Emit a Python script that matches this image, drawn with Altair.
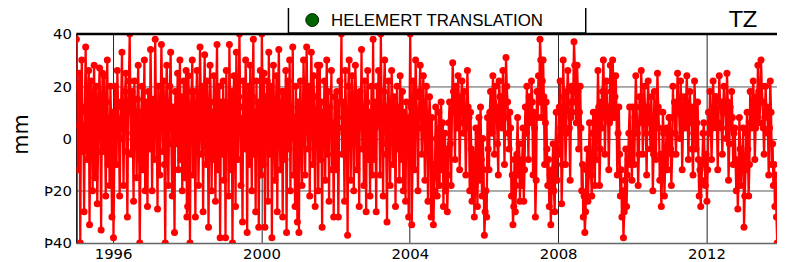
import altair as alt
import pandas as pd

# weekly-ish values (mm), one list per year (48 per year)
y1995 = [38, 20, -12, 5, 25, -40, 10, 30, -5, 5, -28, 12, 35, 0, -8, 18, 26, -33, 4, 22, 10, -20, 15, 28,
         -15, 8, 20, -25, -5, 15, 27, 6, -35, 12, 25, -5, 24, 2, -22, 14, 30, -10, 8, -18, 20, 6, -30, 10]
y1996 = [-38, -10, 20, 5, -10, 26, 12, 5, -22, 0, 14, 33, 8, -18, 8, 18, 25, -5, -30, 12, 22, 40, 10, -6,
         18, 2, -24, 22, 10, 3, -15, 15, 28, 6, -40, -8, 10, 20, -12, 5, 30, -20, 14, 0, -26, 18, 8, -4]
y1997 = [34, 10, -20, 15, 2, -8, 38, 12, 4, -27, 20, 6, -14, 10, 36, 15, -5, 22, -10, -40, 14, 28, 5, -18,
         6, 20, 33, -2, -22, 12, 0, -36, 18, 8, -2, 25, -12, 10, 30, -8, 16, -20, 4, 22, -15, 8, 26, -30]
y1998 = [-26, 24, 2, -40, 10, 18, 30, -14, 18, 2, -30, 12, 26, 8, -18, 4, 35, 15, -6, 20, -28, 12, 32, 5,
         -10, 22, 8, -34, 6, 28, 14, -20, 10, -8, 24, 0, -24, 16, 36, -12, 6, 20, -38, 8, 14, -6, 22, -16]
y1999 = [14, -38, 26, 4, 12, -22, 36, 10, -12, 18, -40, 6, 24, 10, -26, 33, 2, -8, 16, 40, 12, -18, 6, -32,
         22, 8, -4, 30, 14, -36, 12, 20, -10, 28, 4, -20, 16, 38, -6, 10, -28, 22, 0, 14, -34, 8, 26, -14]
y2000 = [40, 15, -10, 25, -34, 16, 2, 22, -24, 33, 8, -6, 20, -38, 12, 28, 4, -16, 8, 24, -28, 14, 34, 6,
         -12, 4, 18, -30, 18, 2, -8, 26, -36, 10, 22, -4, 30, -20, 12, 0, 35, -14, 8, -26, 20, 6, -32, 14]
y2001 = [-36, 10, 22, 0, -18, 5, 30, 12, -14, 14, 35, 8, -4, 20, -22, 12, 33, 16, -10, 24, 4, -26, 6, 16,
         28, -20, 10, 28, -8, 14, -34, 10, 2, 22, -16, 8, 30, -6, 18, -24, 12, 4, 26, -12, 6, -30, 16, -2]
y2002 = [-12, 18, 8, -30, 4, 22, 14, 40, -6, 14, 2, -24, 26, 10, 2, -37, 20, 30, 8, -16, 10, 24, 12, -20,
         6, 28, 16, -12, 16, 4, -26, 18, 4, 34, -4, 12, -18, 22, 6, -28, 14, 26, -8, 10, -22, 2, 20, -14]
y2003 = [38, -8, 14, 4, -28, 20, 6, 26, 10, -14, 40, 10, -2, -22, 18, 30, 12, -6, -32, 12, 22, 4, -18, 4,
         26, 14, -10, 16, 8, -26, 8, 20, -4, 12, -16, 24, 6, -8, 18, -20, 10, 2, -24, 14, -6, 8, -30, 4]
y2004 = [40, 12, -33, -10, 22, 8, -12, 30, 16, 8, -20, 4, 18, 28, 10, -6, 14, 24, 6, -16, 10, 20, 2, -24,
         2, 16, 8, -30, 8, -10, -33, -20, -14, 12, 0, -22, -6, 10, -18, 4, 14, -12, 6, -26, -8, 2, -20, -4]
y2005 = [-28, -14, 6, 14, -2, -18, 10, 29, 18, 10, -8, 20, 12, 4, 24, 14, -12, 6, 16, 22, 10, 2, 18, 6,
         -14, 4, 26, 12, 8, -20, 10, -4, -24, -12, -6, -30, -18, 4, -10, -26, 2, 8, -16, 12, -8, -22, 0, -12]
y2006 = [-37, -28, -20, -30, 8, -4, -12, 10, 18, 6, 2, 24, 14, -6, 20, 8, 12, -2, -14, 22, 16, 6, 16, 4,
         26, 12, -10, 8, 31, 20, 14, 2, -4, 10, 4, -22, -14, -33, -26, -8, -28, -18, -6, 8, -14, -2, -24, -10]
y2007 = [-18, -8, 4, -24, -12, 12, 2, 20, 8, -8, 16, 6, 10, 22, 14, -14, 10, 4, -30, -16, 18, 8, 24, 14,
         38, 30, 8, 22, 30, 16, -10, 6, 14, -4, -18, -8, -26, -14, -33, -20, -12, -2, -20, -28, -6, 10, -16, -4]
y2008 = [-6, 12, 22, 4, -25, -10, 30, 16, 12, -10, 2, 18, 26, 14, 4, -16, 8, 20, 10, 18, 37, 28, 14, 6,
         28, 18, -4, 10, 20, 4, -20, -10, -30, -22, -36, -28, -12, -4, -24, -14, 6, -8, -14, -22, 2, 10, -6, -18]
y2009 = [10, -8, 4, 26, 12, -18, -4, 14, 4, 18, 30, 16, -6, 8, 22, 12, 12, -12, 6, 28, 18, 8, 30, 20,
         8, 16, 24, 10, -14, 2, 12, -6, -22, -12, -30, -20, -38, -28, -16, -4, -26, -14, -8, 2, 12, -10, -4, -16]
y2010 = [12, 2, -10, 8, 24, 12, 2, -18, -6, 16, 6, 26, 14, -6, 8, 20, 10, 2, -14, 12, 22, 8, 6, -4,
         16, 6, -20, -6, 18, 6, -8, 10, 25, 12, 4, -16, -6, -26, -14, 10, 2, -22, -10, -4, 4, -12, -2, 8]
y2011 = [8, -4, -18, -6, 20, 8, 14, 2, -6, 10, 25, 14, 10, 0, 22, 12, -12, 4, 16, 6, 4, 14, 24, 10,
         -8, 6, 18, 8, 12, -4, -14, 2, 22, 10, -4, 6, 14, -8, -22, -12, -26, -16, -10, 2, 6, -8, -18, -6]
y2012 = [-24, -12, 10, 2, 18, 6, -8, 4, 22, 12, 6, 16, 16, 4, -12, 6, 24, 14, 14, 4, -6, 10, 20, 12,
         10, 0, 25, 14, -16, -2, 12, 4, 18, 8, -10, 2, 4, -8, -20, -10, -27, -14, 8, -4, -18, -8, -6, 4]
y2013 = [-34, -22, -12, 2, 10, -4, -22, -10, 18, 6, 4, 14, 22, 10, -8, 4, 16, 8, 28, 18, 6, 14, 30, 20,
         14, 4, -6, 8, 20, 10, 12, 2, -14, 4, 22, 10, -10, -2, -18, -10, -26, -14, -30, -40]

years = list(range(1995, 2014))
series = [y1995, y1996, y1997, y1998, y1999, y2000, y2001, y2002, y2003, y2004,
          y2005, y2006, y2007, y2008, y2009, y2010, y2011, y2012, y2013]

x_ticks = [1996, 2000, 2004, 2008, 2012]
y_ticks = [-40, -20, 0, 20, 40]
legend_label = "HELEMERT TRANSLATION"
panel_label = "TZ"

rows = []
for yr, vals in zip(years, series):
    for i, v in enumerate(vals):
        rows.append({"t": yr + (i + 0.5) / 48.0, "v": v})
df = pd.DataFrame(rows)

W, H = 707, 211
xs = alt.Scale(domain=[1995.01, 2013.9], nice=False, zero=False)
ys = alt.Scale(domain=[-40, 40], nice=False)

x_enc = alt.X("t:Q", scale=xs, axis=alt.Axis(
    values=x_ticks, format="d", title=None, grid=True, gridColor="#222222",
    gridWidth=1, tickSize=0, labelPadding=4, labelFont="DejaVu Sans",
    labelFontSize=15, labelColor="black", domainColor="#666666", domainWidth=1.5,
    labelFlush=False))
y_enc = alt.Y("v:Q", scale=ys, axis=alt.Axis(
    values=y_ticks, title="mm", grid=True, gridColor="#555555", gridWidth=1,
    tickSize=0, labelPadding=5, labelFont="DejaVu Sans", labelFontSize=15,
    labelColor="black", domainColor="black", domainWidth=1.5,
    labelExpr="datum.value < 0 ? '\u00de' + abs(datum.value) : datum.label",
    titleFont="DejaVu Sans", titleFontSize=21, titleFontWeight="normal",
    titleAngle=270, titleX=-55, titleY=101, titleAlign="center",
    titleBaseline="middle", titleColor="black"))

base = alt.Chart(df)
line = base.mark_line(color="#ff0000", strokeWidth=2.3, clip=True).encode(x=x_enc, y=y_enc)
pts = base.mark_circle(color="#ff0000", size=50, opacity=1, clip=True).encode(x="t:Q", y="v:Q")

one = pd.DataFrame({"a": [0]})
top_rule = alt.Chart(one).mark_rule(color="black", strokeWidth=2.5).encode(
    x=alt.value(0), x2=alt.value(W), y=alt.value(0))
box = alt.Chart(one).mark_rect(fill="white", stroke="black", strokeWidth=1.5).encode(
    x=alt.value(214), x2=alt.value(514), y=alt.value(-27), y2=alt.value(-1))
dot = alt.Chart(one).mark_point(filled=True, fill="#006400", stroke="#002200",
                                 strokeWidth=1, size=170, shape="circle", opacity=1).encode(
    x=alt.value(238), y=alt.value(-14))
leg_txt = alt.Chart(one).mark_text(text=legend_label, font="Liberation Sans", fontSize=17,
                                   align="left", baseline="middle", color="black").encode(
    x=alt.value(257), y=alt.value(-13))
tz = alt.Chart(one).mark_text(text=panel_label, font="DejaVu Sans", fontSize=22,
                              align="center", baseline="middle", color="black").encode(
    x=alt.value(673), y=alt.value(-14))

chart = alt.layer(line, pts, top_rule, box, dot, leg_txt, tz).properties(
    width=W, height=H,
    autosize=alt.AutoSizeParams(type="none"),
    padding={"left": 69, "top": 25, "right": 0, "bottom": 20},
).configure_view(stroke=None).configure(background="white")

chart.save("out.html", embed_options={"renderer": "svg", "actions": False})
